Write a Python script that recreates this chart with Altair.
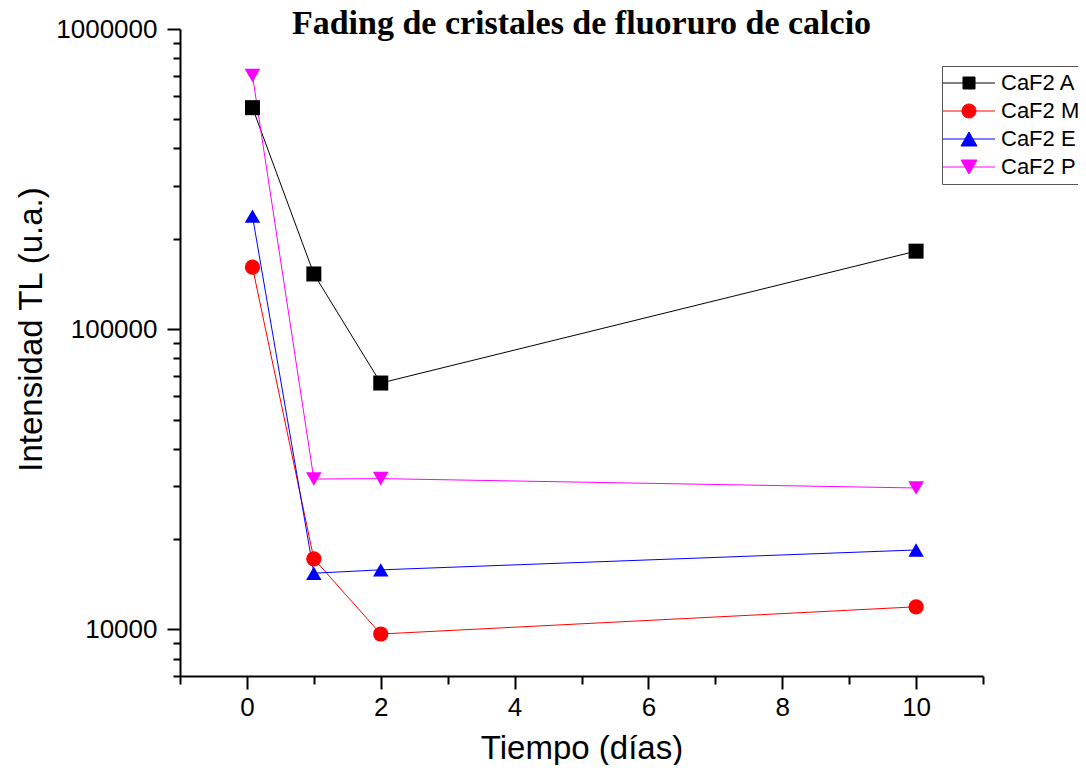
import altair as alt
import pandas as pd

series = ["CaF2 A", "CaF2 M", "CaF2 E", "CaF2 P"]
dias = [0.083, 1, 2, 10]
caf2_a = [547000, 152800, 66200, 182000]
caf2_m = [161000, 17200, 9660, 11900]
caf2_e = [238000, 15400, 15800, 18400]
caf2_p = [700000, 31700, 31800, 29600]

colors = ["#000000", "#FF0000", "#0000FF", "#FF00FF"]
shapes = ["square", "circle", "triangle-up", "triangle-down"]
marker_sizes = [225, 246, 400, 400]

x_ticks = list(range(-1, 12))
y_ticks = [7000, 8000, 9000, 10000, 20000, 30000, 40000, 50000, 60000, 70000,
           80000, 90000, 100000, 200000, 300000, 400000, 500000, 600000,
           700000, 800000, 900000, 1000000]

# legend symbols: line with marker (custom SVG paths in unit coords)
legend_paths = [
    "M-2.29,0H5.14M0.57,-0.857H2.29V0.857H0.57Z",
    "M-2.29,0H5.14M0.43,0A1,1 0 1,0 2.43,0A1,1 0 1,0 0.43,0Z",
    "M-2.29,0H5.14M1.43,-1L2.57,1L0.29,1Z",
    "M-2.29,0H5.14M1.43,1L2.57,-1L0.29,-1Z",
]

rows = []
for name, vals in zip(series, [caf2_a, caf2_m, caf2_e, caf2_p]):
    for d, v in zip(dias, vals):
        rows.append({"serie": name, "dias": d, "intensidad": v})
df = pd.DataFrame(rows)

FONT = "Liberation Sans"

x_enc = alt.X(
    "dias:Q",
    scale=alt.Scale(domain=[-1, 11], nice=False, zero=False),
    axis=alt.Axis(
        title="Tiempo (días)",
        values=x_ticks,
        labelExpr="indexof([0,2,4,6,8,10], datum.value) >= 0 ? datum.label : ''",
        tickSize={"condition": {"test": "indexof([0,2,4,6,8,10], datum.value) >= 0", "value": 13}, "value": 8},
        tickWidth=2, tickColor="black",
        domainWidth=2, domainColor="black",
        labelFont=FONT, labelFontSize=26, labelColor="black", labelPadding=5,
        labelOverlap=False, labelFlush=False,
        titleFont=FONT, titleFontSize=33, titleFontWeight="normal", titleColor="black",
        titleX=401.5, titleY=82, titleBaseline="alphabetic", titleAlign="center",
        grid=False,
    ),
)

y_enc = alt.Y(
    "intensidad:Q",
    scale=alt.Scale(type="log", domain=[7000, 1000000], nice=False),
    axis=alt.Axis(
        title="Intensidad TL (u.a.)",
        values=y_ticks,
        format="d",
        labelExpr="indexof([10000,100000,1000000], datum.value) >= 0 ? datum.label : ''",
        tickSize={"condition": {"test": "indexof([10000,100000,1000000], datum.value) >= 0", "value": 13}, "value": 7},
        tickWidth=2, tickColor="black",
        domainWidth=2, domainColor="black",
        labelFont=FONT, labelFontSize=26, labelColor="black", labelPadding=10,
        labelOverlap=False, labelFlush=False,
        titleFont=FONT, titleFontSize=33, titleFontWeight="normal", titleColor="black",
        titleAngle=-90, titleX=-139, titleY=300, titleBaseline="alphabetic", titleAlign="center",
        grid=False,
    ),
)

cscale = alt.Scale(domain=series, range=colors)

lines = alt.Chart(df).mark_line(strokeWidth=1).encode(
    x=x_enc, y=y_enc,
    color=alt.Color("serie:N", scale=cscale, legend=None),
    order="dias:Q",
)

points = alt.Chart(df).mark_point(filled=True, opacity=1).encode(
    x=x_enc, y=y_enc,
    color=alt.Color("serie:N", scale=cscale, legend=None),
    shape=alt.Shape("serie:N", scale=alt.Scale(domain=series, range=shapes), legend=None),
    size=alt.Size("serie:O", scale=alt.Scale(domain=series, range=marker_sizes), legend=None),
)

leg = dict(
    title=None, orient="none", legendX=762, legendY=37, direction="vertical",
    padding=6, strokeColor="#555555", fillColor="white",
    labelFont=FONT, labelFontSize=22, labelColor="black", labelOffset=31,
    symbolSize=196, symbolStrokeWidth=1, symbolOpacity=1, rowPadding=6, labelLimit=0,
)

legend_layer = alt.Chart(df).transform_filter("false").mark_point(filled=True, opacity=1).encode(
    x=x_enc, y=y_enc,
    color=alt.Color("serie:N", scale=alt.Scale(domain=series, range=colors), legend=alt.Legend(**leg)),
    stroke=alt.Stroke("serie:N", scale=alt.Scale(domain=series, range=colors), legend=alt.Legend(**leg)),
    shape=alt.Shape("serie:N", scale=alt.Scale(domain=series, range=legend_paths), legend=alt.Legend(**leg)),
)

chart = alt.layer(lines, points, legend_layer).resolve_scale(
    color="independent", shape="independent", size="independent", stroke="independent"
).properties(
    width=803, height=647,
    title=alt.TitleParams(
        "Fading de cristales de fluoruro de calcio",
        font="Liberation Serif", fontSize=34, fontWeight="bold", color="black",
        anchor="middle", frame="group", offset=-25,
    ),
    autosize=alt.AutoSizeParams(type="none"),
    padding={"left": 172, "top": 21, "right": 95, "bottom": 89},
    background="white",
).configure_view(stroke=None)

chart.save("out.html", embed_options={"renderer": "svg", "actions": False})
